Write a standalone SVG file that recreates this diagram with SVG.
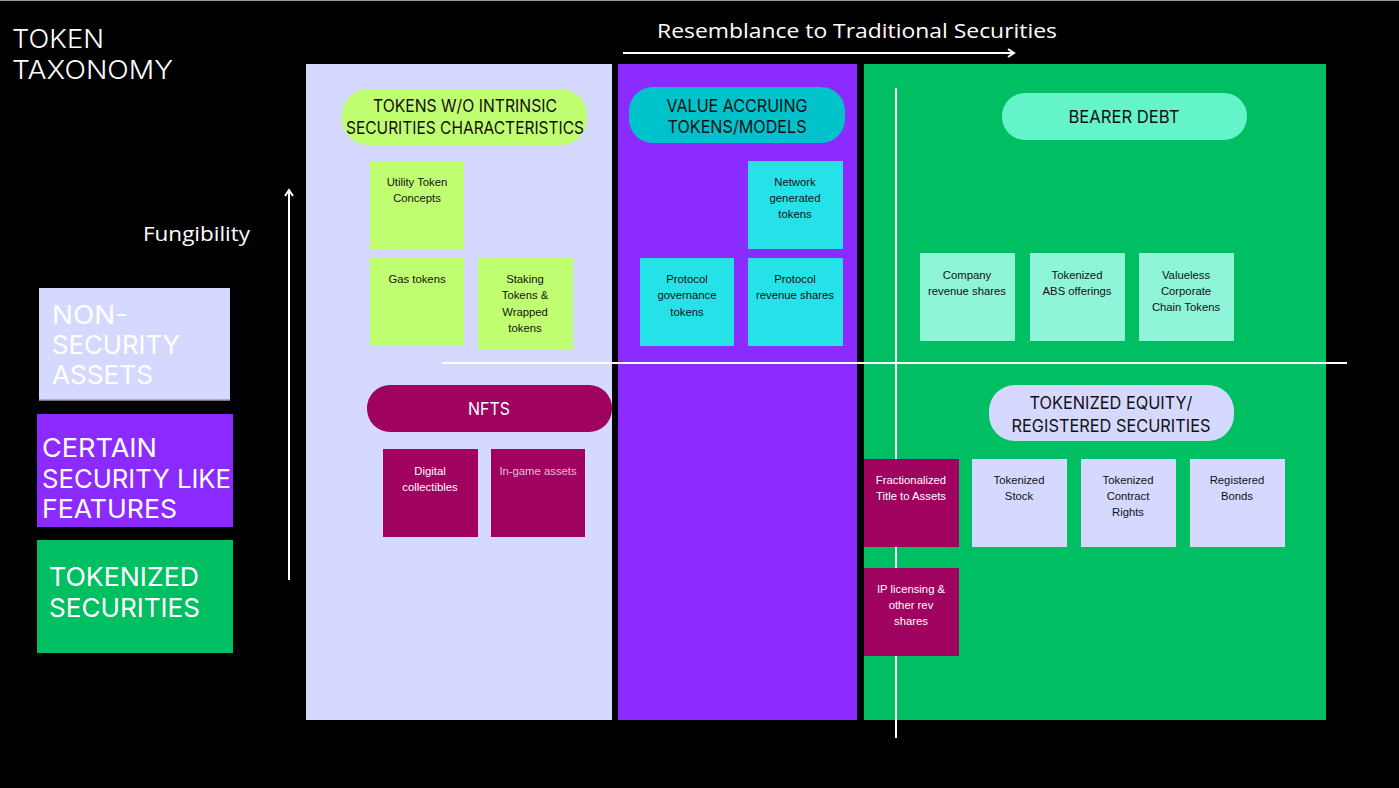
<svg xmlns="http://www.w3.org/2000/svg" width="1399" height="788" viewBox="0 0 1399 788">
<defs>
<marker id="chev" viewBox="0 0 10 10" refX="8" refY="5" markerWidth="5" markerHeight="5" orient="auto" markerUnits="strokeWidth">
<polyline points="2,1 8,5 2,9" fill="none" stroke="#ffffff" stroke-width="2"/>
</marker>
<style>
.title{font-family:Inter,"Liberation Sans",sans-serif;font-weight:300;fill:#fff;font-size:26px}
.axis{font-family:"Open Sans","Liberation Sans",sans-serif;fill:#fff;font-size:20px}
.leg{font-family:Inter,"Liberation Sans",sans-serif;fill:#fff;font-size:26px;font-weight:400}
.hdr{font-family:Inter,"Liberation Sans",sans-serif;fill:#111;font-size:17px;text-anchor:middle}
.sm{font-family:"Liberation Sans",Arial,sans-serif;font-size:11.3px;fill:#111;text-anchor:middle}
.smw{font-family:"Liberation Sans",Arial,sans-serif;font-size:11.3px;fill:#fff;text-anchor:middle}
.line{stroke:#fff;stroke-width:2;fill:none}
.lav{fill:#D6D9FF}.pur{fill:#8C2BFF}.grn{fill:#00BF63}.lime{fill:#C1FF72}.teal{fill:#00C2CB}.cyan{fill:#25E2E9}.bpill{fill:#64F4C9}.mint{fill:#8FF5D8}.mag{fill:#A0025F}
</style>
</defs>
<rect x="0" y="0" width="1399" height="788" fill="#000"/>
<line x1="0" y1="0.5" x2="1399" y2="0.5" stroke="#9a9a9a" stroke-width="1"/>

<g id="title">
<text class="title" x="12" y="48" textLength="92" lengthAdjust="spacingAndGlyphs">TOKEN</text>
<text class="title" x="12" y="79" textLength="161" lengthAdjust="spacingAndGlyphs">TAXONOMY</text>
</g>

<g id="panels">
<rect class="lav" x="306" y="64" width="306" height="656"/>
<rect class="pur" x="618" y="64" width="239" height="656"/>
<rect class="grn" x="864" y="64" width="462" height="656"/>
</g>

<g id="connectors">
<line class="line" x1="623" y1="53" x2="1014" y2="53" marker-end="url(#chev)"/>
<line class="line" x1="289" y1="580" x2="289" y2="190" marker-end="url(#chev)"/>
<line class="line" x1="896" y1="88" x2="896" y2="738"/>
<line class="line" x1="442" y1="363" x2="1347" y2="363"/>
</g>

<g id="axis-labels">
<text class="axis" x="657" y="38" textLength="400" lengthAdjust="spacingAndGlyphs">Resemblance to Traditional Securities</text>
<text class="axis" x="143" y="241" textLength="107" lengthAdjust="spacingAndGlyphs">Fungibility</text>
</g>

<g id="legend-non-security">
<rect class="lav" x="39" y="288" width="191" height="112"/>
<line x1="39" y1="400" x2="230" y2="400" stroke="#9a9cb8" stroke-width="1.5"/>
<text class="leg" x="52" y="324" textLength="76" lengthAdjust="spacingAndGlyphs">NON-</text>
<text class="leg" x="52" y="354" textLength="128" lengthAdjust="spacingAndGlyphs">SECURITY</text>
<text class="leg" x="52" y="384" textLength="101" lengthAdjust="spacingAndGlyphs">ASSETS</text>
</g>
<g id="legend-security-like">
<rect class="pur" x="37" y="414" width="196" height="113"/>
<text class="leg" x="42" y="457" textLength="115" lengthAdjust="spacingAndGlyphs">CERTAIN</text>
<text class="leg" x="42" y="488" textLength="189" lengthAdjust="spacingAndGlyphs">SECURITY LIKE</text>
<text class="leg" x="42" y="518" textLength="135" lengthAdjust="spacingAndGlyphs">FEATURES</text>
</g>
<g id="legend-tokenized">
<rect class="grn" x="37" y="540" width="196" height="113"/>
<text class="leg" x="49" y="586" textLength="150" lengthAdjust="spacingAndGlyphs">TOKENIZED</text>
<text class="leg" x="49" y="617" textLength="151" lengthAdjust="spacingAndGlyphs">SECURITIES</text>
</g>

<g id="hdr-no-intrinsic">
<rect class="lime" x="342" y="89" width="245" height="56" rx="26"/>
<text class="hdr" x="465" y="112" textLength="184" lengthAdjust="spacingAndGlyphs">TOKENS W/O INTRINSIC</text>
<text class="hdr" x="465" y="134" textLength="238" lengthAdjust="spacingAndGlyphs">SECURITIES CHARACTERISTICS</text>
</g>
<g id="hdr-value-accruing">
<rect class="teal" x="629" y="87" width="216" height="56" rx="24"/>
<text class="hdr" x="737" y="112" textLength="141" lengthAdjust="spacingAndGlyphs">VALUE ACCRUING</text>
<text class="hdr" x="737" y="133" textLength="139" lengthAdjust="spacingAndGlyphs">TOKENS/MODELS</text>
</g>
<g id="hdr-bearer-debt">
<rect class="bpill" x="1002" y="93" width="245" height="47" rx="23"/>
<text class="hdr" x="1124" y="123" textLength="111" lengthAdjust="spacingAndGlyphs">BEARER DEBT</text>
</g>
<g id="hdr-nfts">
<rect class="mag" x="367" y="385" width="245" height="47" rx="23"/>
<text class="hdr" x="489" y="415" style="fill:#fff" textLength="42" lengthAdjust="spacingAndGlyphs">NFTS</text>
</g>
<g id="hdr-equity">
<rect class="lav" x="989" y="385" width="245" height="56" rx="26"/>
<text class="hdr" x="1111" y="409" textLength="163" lengthAdjust="spacingAndGlyphs">TOKENIZED EQUITY/</text>
<text class="hdr" x="1111" y="432" textLength="199" lengthAdjust="spacingAndGlyphs">REGISTERED SECURITIES</text>
</g>

<g id="utility-token">
<rect class="lime" x="370" y="161" width="94" height="88"/>
<text class="sm" x="417" y="186">Utility Token</text>
<text class="sm" x="417" y="202">Concepts</text>
</g>
<g id="gas-tokens">
<rect class="lime" x="370" y="258" width="94" height="88"/>
<text class="sm" x="417" y="283">Gas tokens</text>
</g>
<g id="staking-tokens">
<rect class="lime" x="478" y="258" width="95" height="91"/>
<text class="sm" x="525" y="283">Staking</text>
<text class="sm" x="525" y="299">Tokens &amp;</text>
<text class="sm" x="525" y="316">Wrapped</text>
<text class="sm" x="525" y="332">tokens</text>
</g>

<g id="network-generated">
<rect class="cyan" x="748" y="161" width="95" height="88"/>
<text class="sm" x="795" y="186">Network</text>
<text class="sm" x="795" y="202">generated</text>
<text class="sm" x="795" y="218">tokens</text>
</g>
<g id="protocol-governance">
<rect class="cyan" x="640" y="258" width="94" height="88"/>
<text class="sm" x="687" y="283">Protocol</text>
<text class="sm" x="687" y="299">governance</text>
<text class="sm" x="687" y="316">tokens</text>
</g>
<g id="protocol-revenue">
<rect class="cyan" x="748" y="258" width="95" height="88"/>
<text class="sm" x="795" y="283">Protocol</text>
<text class="sm" x="795" y="299">revenue shares</text>
</g>

<g id="company-revenue">
<rect class="mint" x="920" y="253" width="95" height="88"/>
<text class="sm" x="967" y="279">Company</text>
<text class="sm" x="967" y="295">revenue shares</text>
</g>
<g id="tokenized-abs">
<rect class="mint" x="1030" y="253" width="95" height="88"/>
<text class="sm" x="1077" y="279">Tokenized</text>
<text class="sm" x="1077" y="295">ABS offerings</text>
</g>
<g id="valueless-chain">
<rect class="mint" x="1139" y="253" width="95" height="88"/>
<text class="sm" x="1186" y="279">Valueless</text>
<text class="sm" x="1186" y="295">Corporate</text>
<text class="sm" x="1186" y="311">Chain Tokens</text>
</g>

<g id="digital-collectibles">
<rect class="mag" x="383" y="449" width="95" height="88"/>
<text class="smw" x="430" y="475">Digital</text>
<text class="smw" x="430" y="491">collectibles</text>
</g>
<g id="in-game-assets">
<rect class="mag" x="491" y="449" width="94" height="88"/>
<text class="smw" x="538" y="475" style="fill:#E8BCD8">In-game assets</text>
</g>

<g id="fractionalized-title">
<rect class="mag" x="864" y="459" width="95" height="88"/>
<text class="smw" x="911" y="484">Fractionalized</text>
<text class="smw" x="911" y="500">Title to Assets</text>
</g>
<g id="tokenized-stock">
<rect class="lav" x="972" y="459" width="95" height="88"/>
<text class="sm" x="1019" y="484">Tokenized</text>
<text class="sm" x="1019" y="500">Stock</text>
</g>
<g id="tokenized-contract">
<rect class="lav" x="1081" y="459" width="95" height="88"/>
<text class="sm" x="1128" y="484">Tokenized</text>
<text class="sm" x="1128" y="500">Contract</text>
<text class="sm" x="1128" y="516">Rights</text>
</g>
<g id="registered-bonds">
<rect class="lav" x="1190" y="459" width="95" height="88"/>
<text class="sm" x="1237" y="484">Registered</text>
<text class="sm" x="1237" y="500">Bonds</text>
</g>
<g id="ip-licensing">
<rect class="mag" x="864" y="568" width="95" height="88"/>
<text class="smw" x="911" y="593">IP licensing &amp;</text>
<text class="smw" x="911" y="609">other rev</text>
<text class="smw" x="911" y="625">shares</text>
</g>
</svg>
